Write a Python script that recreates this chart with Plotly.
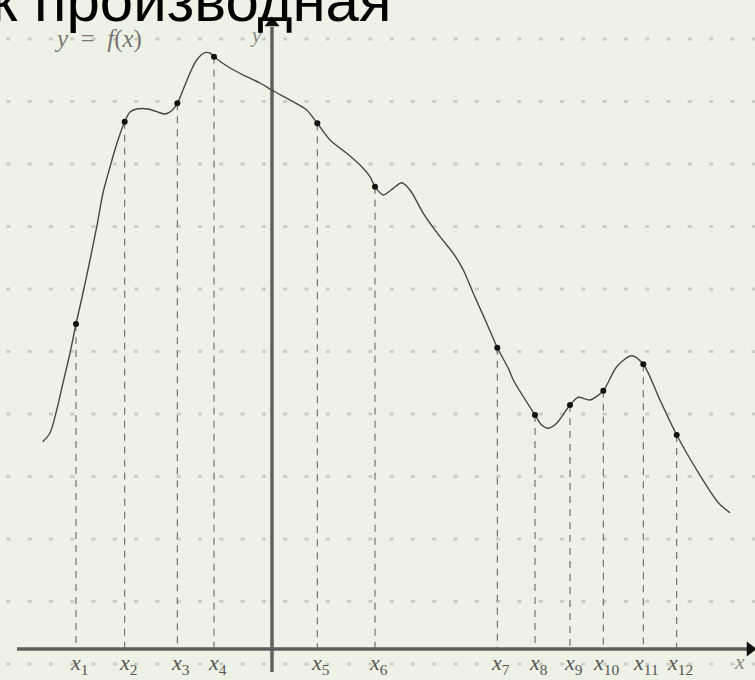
import plotly.graph_objects as go

# Curve y = f(x) (units: px relative to origin, y up)
curve_x = [-229.3, -222, -215.3, -209, -202, -196, -189, -182, -175.3, -169, -162, -155,
           -147.3, -142, -135.3, -124, -115.3, -107, -100.3, -94.7, -89, -82, -75.3, -67,
           -62, -58, -42, -25.3, -12, -0.3, 21, 34.7, 45.3, 58, 74.7, 88, 98, 103, 111.3,
           121.3, 129.7, 138, 151.3, 168, 181.3, 191.3, 201.3, 214.7, 225.3, 236.3, 241.3,
           263, 269.7, 276.3, 284.7, 298, 306.3, 318, 331.3, 344.7, 359.7, 371.3, 388,
           404.7, 424.7, 446.3, 458]
curve_y = [207.3, 216, 239, 266, 296, 325, 356, 389, 422, 456, 482, 506,
           527.3, 537, 540, 540, 537.3, 535, 538.3, 545.7, 559, 576, 589, 596.3,
           596, 592.3, 581, 572.3, 566, 559, 547.3, 539, 525.7, 509, 495.7, 484, 472.3, 462.3, 454,
           460.7, 466.3, 459, 435.7, 412.3, 395.7, 379, 355.7, 325.7, 301.3, 280.7, 269,
           234, 224, 220.7, 225.7, 244, 251.7, 249, 258.3, 282.3, 293.3, 284.7, 249,
           214, 179, 146.3, 136.3]

# Marked points x1..x12
point_x = [-196, -147.3, -94.7, -58, 45.3, 103, 225.3, 263, 298, 331.3, 371.3, 404.7]
point_y = [325, 527.3, 545.7, 592.3, 525.7, 462.3, 301.3, 234, 244, 258.3, 284.7, 214]
point_labels = ["<i>x</i><sub>%d</sub>" % i for i in range(1, 13)]

# Dotted background rows
grid_rows = [610, 547.5, 485, 422.5, 360, 297.5, 235, 172.5, 110, 47.5, -15]

X_RANGE = [-272, 483]
Y_RANGE = [-31, 649]

BG = "#eef1e6"
fig = go.Figure()

# dotted grid rows
for gy in grid_rows:
    fig.add_shape(type="line", xref="paper", yref="y", x0=6.3 / 755, x1=1, y0=gy, y1=gy,
                  line=dict(color="#cbcec4", width=3, dash="4px,17.3px"), layer="below")

# vertical dashed drop lines
dx, dy = [], []
for px, py in zip(point_x, point_y):
    dx += [px, px, None]
    dy += [py, 0, None]
fig.add_trace(go.Scatter(x=dx, y=dy, mode="lines",
                         line=dict(color="#5a5a5a", width=1, dash="7px,6px"),
                         hoverinfo="skip", showlegend=False))

# axes
fig.add_trace(go.Scatter(x=[-255, 478], y=[0, 0], mode="lines",
                         line=dict(color="#5f5f5f", width=3.5), hoverinfo="skip", showlegend=False))
fig.add_trace(go.Scatter(x=[0, 0], y=[-23, 622], mode="lines",
                         line=dict(color="#5f5f5f", width=3.5), hoverinfo="skip", showlegend=False))
fig.add_trace(go.Scatter(x=[0], y=[626], mode="markers",
                         marker=dict(symbol="triangle-up", size=13, color="#111"),
                         hoverinfo="skip", showlegend=False))
fig.add_trace(go.Scatter(x=[478], y=[0], mode="markers",
                         marker=dict(symbol="triangle-right", size=13, color="#111"),
                         hoverinfo="skip", showlegend=False))

# curve
fig.add_trace(go.Scatter(x=curve_x, y=curve_y, mode="lines",
                         line=dict(color="#474747", width=1.4, shape="spline", smoothing=0.8),
                         hoverinfo="skip", showlegend=False))
# points
fig.add_trace(go.Scatter(x=point_x, y=point_y, mode="markers",
                         marker=dict(color="#111", size=6),
                         hoverinfo="skip", showlegend=False))

serif = "Liberation Serif, DejaVu Serif, serif"
for px, lab in zip(point_x, point_labels):
    fig.add_annotation(x=px, y=-15, text=lab, showarrow=False, xshift=3,
                       font=dict(family=serif, size=22, color="#555"),
                       xanchor="center", yanchor="middle")

fig.add_annotation(x=467, y=-12, text="<i>x</i>", showarrow=False,
                   font=dict(family=serif, size=22, color="#888"), xanchor="center", yanchor="middle")
fig.add_annotation(x=-16, y=614, text="<i>y</i>", showarrow=False,
                   font=dict(family=serif, size=21, color="#888"), xanchor="center", yanchor="middle")
fig.add_annotation(x=-174, y=610,
                   text="<i>y</i>&nbsp;&nbsp;=&nbsp;&nbsp;<i>f</i>(<i>x</i>)", showarrow=False,
                   font=dict(family=serif, size=25, color="#777"), xanchor="center", yanchor="middle")

# title (cut at the top in the reference)
fig.add_annotation(xref="paper", yref="paper", x=-11 / 755, y=1 - 0 / 680,
                   text="к производная", showarrow=False,
                   font=dict(family="Liberation Sans, Arial, sans-serif", size=60, color="#000"),
                   xanchor="left", yanchor="middle")

fig.update_layout(
    width=755, height=680,
    margin=dict(l=0, r=0, t=0, b=0),
    paper_bgcolor=BG, plot_bgcolor=BG,
    xaxis=dict(range=X_RANGE, visible=False, fixedrange=True),
    yaxis=dict(range=Y_RANGE, visible=False, fixedrange=True),
    showlegend=False,
)

fig.write_html("out.html", config={"displayModeBar": False},
               post_script="document.body.style.margin='0';")
